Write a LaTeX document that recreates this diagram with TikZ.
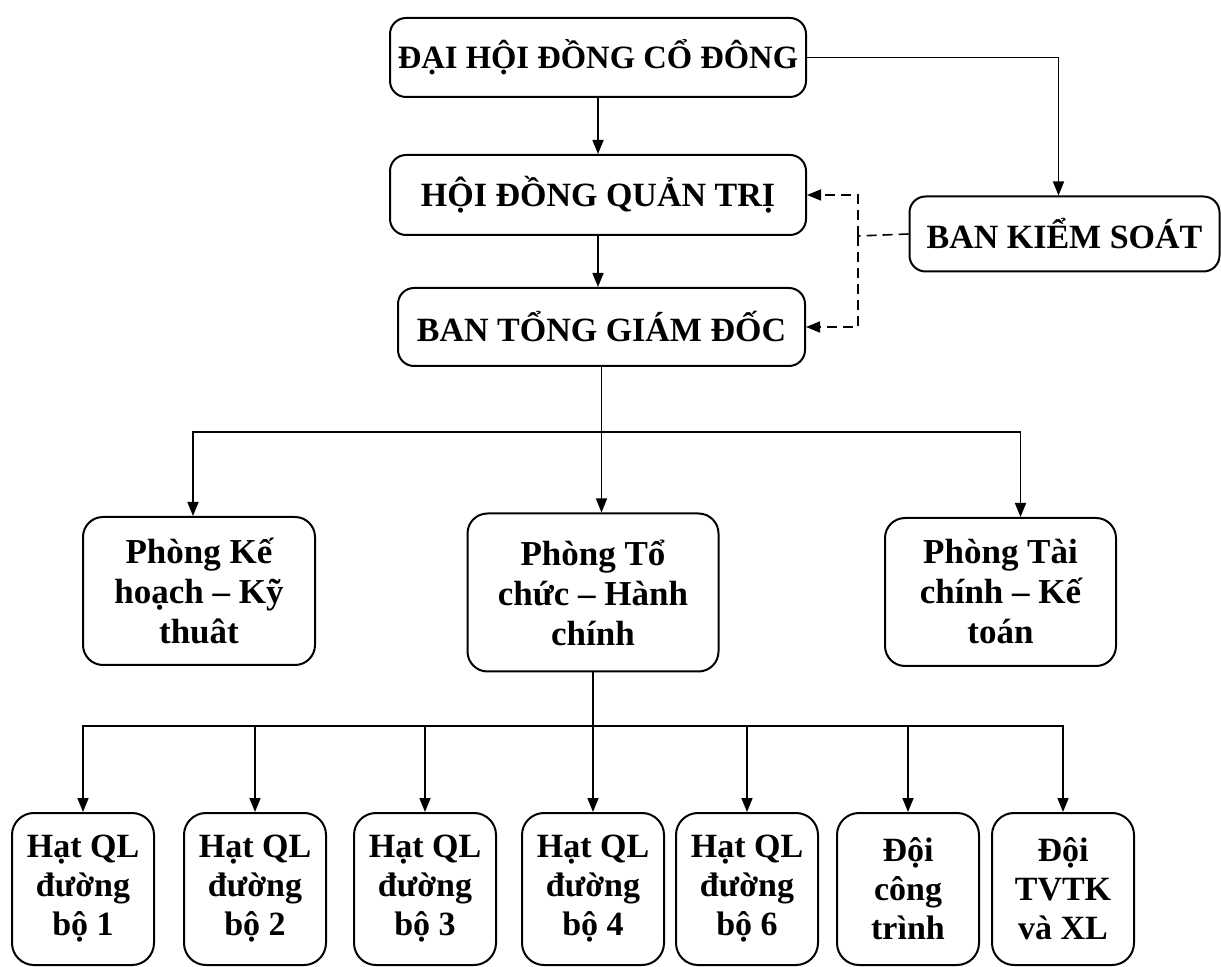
\documentclass[tikz,border=0pt]{standalone}
\usepackage{fontspec}
\setmainfont{Liberation Serif}
\usepackage{tikz}
\usetikzlibrary{arrows.meta, positioning}

\tikzset{
    box/.style={draw, line width=1pt, rounded corners=8pt, align=center, inner sep=0pt},
    topbox/.style={box, font=\fontsize{17}{20}\selectfont\bfseries},
    midbox/.style={box, minimum height=74pt, rounded corners=10pt, font=\fontsize{17.5}{20}\selectfont\bfseries},
    lowbox/.style={box, minimum width=71pt, minimum height=76pt, rounded corners=11pt, font=\fontsize{17}{19.5}\selectfont\bfseries},
    arr/.style={line width=0.8pt, -{Triangle[length=7pt, width=5.5pt]}},
    dasharr/.style={arr, dash pattern=on 5pt off 3pt},
}

\begin{document}
\begin{tikzpicture}[x=0.5pt, y=-0.5pt]
        \useasboundingbox (0, 0) rectangle (1221, 967);

        % top of the chart
        \node[topbox, minimum width=208pt, minimum height=39.5pt, font=\fontsize{16.3}{20}\selectfont\bfseries] (dh) at (598, 57.5) {ĐẠI HỘI ĐỒNG CỔ ĐÔNG};
        \node[topbox, minimum width=208pt, minimum height=40pt] (hd) at (598, 195) {HỘI ĐỒNG QUẢN TRỊ};
        \node[topbox, minimum width=203.5pt, minimum height=39pt] (bt) at (601.5, 327) {BAN TỔNG GIÁM ĐỐC};
        \node[topbox, minimum width=155pt, minimum height=37.5pt] (bks) at (1064.5, 234) {BAN KIỂM SOÁT};

        \draw[arr] (dh.south) -- (dh.south |- hd.north);
        \draw[arr] (hd.south) -- (hd.south |- bt.north);
        \draw[arr] (dh.east) -| ([xshift=-3pt]bks.north);

        \coordinate (ks) at (858, 236);
        \draw[line width=0.8pt, dash pattern=on 5pt off 3pt] (bks.west) -- (ks);
        \draw[dasharr] (ks) |- (hd.east);
        \draw[dasharr] (ks) |- (bt.east);

        % phong ban
        \node[midbox, minimum width=116pt] (pkh) at (199, 591) {Phòng Kế\\hoạch – Kỹ\\thuât};
        \node[midbox, minimum width=125.5pt, minimum height=79pt] (ptc) at (593, 592.5) {Phòng Tổ\\chức – Hành\\chính};
        \node[midbox, minimum width=115.5pt] (ptk) at (1000.5, 592) {Phòng Tài\\chính – Kế\\toán};

        \coordinate (s1) at (596, 432);
        \draw[arr] (bt.south) -- (bt.south |- ptc.north);
        \draw[arr] (s1) -| ([xshift=-3pt]pkh.north);
        \draw[arr] (s1) -| ([xshift=10pt]ptk.north);

        % hat, doi
        \node[lowbox] (h1) at (83, 889) {Hạt QL\\đường\\bộ 1};
        \node[lowbox] (h2) at (255, 889) {Hạt QL\\đường\\bộ 2};
        \node[lowbox] (h3) at (425, 889) {Hạt QL\\đường\\bộ 3};
        \node[lowbox] (h4) at (593, 889) {Hạt QL\\đường\\bộ 4};
        \node[lowbox] (h6) at (747, 889) {Hạt QL\\đường\\bộ 6};
        \node[lowbox] (dct) at (908, 889) {Đội\\công\\trình};
        \node[lowbox] (dtv) at (1063, 889) {Đội\\TVTK\\và XL};

        \coordinate (s2) at (593, 726);
        \draw[arr] (ptc.south) -- (ptc.south |- h4.north);
        \foreach \n in {h1, h2, h3, h6, dct, dtv}
            \draw[arr] (s2) -| (\n.north);
    \end{tikzpicture}
\end{document}
